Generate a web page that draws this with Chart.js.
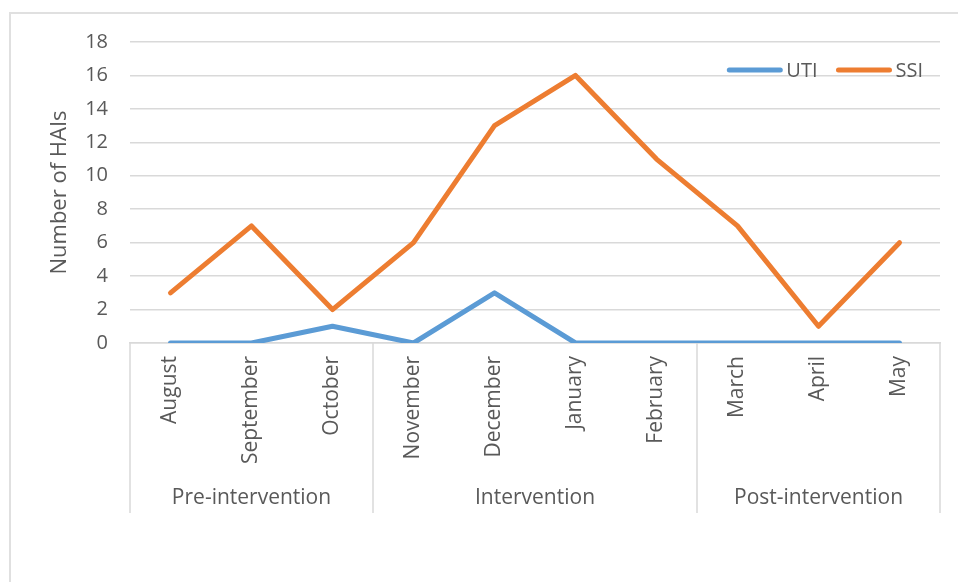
<!DOCTYPE html>
<html lang="en">
<head>
    <meta charset="UTF-8">
    <title>Number of HAIs</title>
    <script src="https://cdn.jsdelivr.net/npm/chart.js"></script>
    <style>
        body {
            margin: 0;
            padding: 0;
            background: #ffffff;
        }
        .frame {
            position: absolute;
            left: 9px;
            top: 12px;
            width: 960px;
            height: 580px;
            border-top: 2px solid #e0e0e0;
            border-left: 2px solid #e0e0e0;
        }
        #myChart {
            position: absolute;
            left: 0;
            top: 0;
        }
    </style>
</head>
<body>
    <div class="frame"></div>
    <canvas id="myChart" width="958" height="582"></canvas>
    <script>
        const months = ['August', 'September', 'October', 'November', 'December',
                        'January', 'February', 'March', 'April', 'May'];
        const utiValues = [0, 0, 1, 0, 3, 0, 0, 0, 0, 0];
        const ssiValues = [3, 7, 2, 6, 13, 16, 11, 7, 1, 6];
        const groupLabels = ['Pre-intervention', 'Intervention', 'Post-intervention'];
        const groupSizes = [3, 4, 3];

        const textColor = '#595959';
        const gridColor = '#d9d9d9';
        const fontFamily = "'Open Sans', sans-serif";

        // group separators + group names under the month labels
        const groupAxis = {
            id: 'groupAxis',
            afterDraw(chart) {
                const ctx = chart.ctx;
                const x = chart.scales.x;
                const step = x.getPixelForValue(1) - x.getPixelForValue(0);
                const top = chart.chartArea.bottom;
                const bottom = 513;
                let start = 0;
                ctx.save();
                ctx.strokeStyle = gridColor;
                ctx.lineWidth = 1.5;
                ctx.fillStyle = textColor;
                ctx.font = '21px ' + fontFamily;
                ctx.textAlign = 'center';
                ctx.textBaseline = 'middle';
                const edges = [x.getPixelForValue(0) - step / 2];
                groupSizes.forEach((size, i) => {
                    const left = x.getPixelForValue(start) - step / 2;
                    const right = x.getPixelForValue(start + size - 1) + step / 2;
                    edges.push(right);
                    ctx.fillText(groupLabels[i], (left + right) / 2, 498);
                    start += size;
                });
                edges.forEach(px => {
                    ctx.beginPath();
                    ctx.moveTo(px, top);
                    ctx.lineTo(px, bottom);
                    ctx.stroke();
                });
                ctx.restore();
            }
        };

        // legend drawn inside the plot, top right
        const innerLegend = {
            id: 'innerLegend',
            afterDraw(chart) {
                const ctx = chart.ctx;
                const area = chart.chartArea;
                const lineLen = 55;
                const gap = 4;
                const spacing = 19;
                const y = 70;
                ctx.save();
                ctx.font = '20px ' + fontFamily;
                ctx.textBaseline = 'middle';
                ctx.textAlign = 'left';
                const sets = chart.data.datasets;
                let total = 0;
                sets.forEach((ds, i) => {
                    total += lineLen + gap + ctx.measureText(ds.label).width;
                    if (i > 0) total += spacing;
                });
                let px = area.right - 17 - total;
                sets.forEach(ds => {
                    ctx.strokeStyle = ds.borderColor;
                    ctx.lineWidth = ds.borderWidth;
                    ctx.lineCap = 'round';
                    ctx.beginPath();
                    ctx.moveTo(px + 2, y);
                    ctx.lineTo(px + lineLen - 2, y);
                    ctx.stroke();
                    px += lineLen + gap;
                    ctx.fillStyle = textColor;
                    ctx.fillText(ds.label, px, y + 1);
                    px += ctx.measureText(ds.label).width + spacing;
                });
                ctx.restore();
            }
        };

        const ctx = document.getElementById('myChart').getContext('2d');
        new Chart(ctx, {
            type: 'line',
            data: {
                labels: months,
                datasets: [
                    {
                        label: 'UTI',
                        data: utiValues,
                        borderColor: '#5b9bd5',
                        backgroundColor: '#5b9bd5',
                        borderWidth: 5,
                        pointRadius: 0,
                        borderJoinStyle: 'round',
                        borderCapStyle: 'round',
                        tension: 0,
                        fill: false
                    },
                    {
                        label: 'SSI',
                        data: ssiValues,
                        borderColor: '#ed7d31',
                        backgroundColor: '#ed7d31',
                        borderWidth: 5,
                        pointRadius: 0,
                        borderJoinStyle: 'round',
                        borderCapStyle: 'round',
                        tension: 0,
                        fill: false
                    }
                ]
            },
            options: {
                responsive: false,
                animation: false,
                layout: {
                    padding: { left: 20, top: 42, right: 18, bottom: 0 }
                },
                plugins: {
                    legend: { display: false },
                    tooltip: { enabled: false }
                },
                scales: {
                    x: {
                        offset: true,
                        grid: { display: false, drawTicks: false },
                        border: { display: true, color: gridColor, width: 1.5 },
                        ticks: {
                            color: textColor,
                            font: { family: fontFamily, size: 21 },
                            minRotation: 90,
                            maxRotation: 90,
                            autoSkip: false,
                            padding: 13
                        },
                        afterFit(scale) { scale.height = 239; }
                    },
                    y: {
                        min: 0,
                        max: 18,
                        grid: { color: gridColor, lineWidth: 1.5, drawTicks: false },
                        border: { display: false },
                        ticks: {
                            stepSize: 2,
                            color: textColor,
                            font: { family: fontFamily, size: 20 },
                            padding: 22
                        },
                        title: {
                            display: true,
                            text: 'Number of HAIs',
                            color: textColor,
                            font: { family: fontFamily, size: 22 },
                            padding: { top: 27, bottom: 0 }
                        },
                        afterFit(scale) { scale.width = 110; }
                    }
                }
            },
            plugins: [groupAxis, innerLegend]
        });
    </script>
</body>
</html>
